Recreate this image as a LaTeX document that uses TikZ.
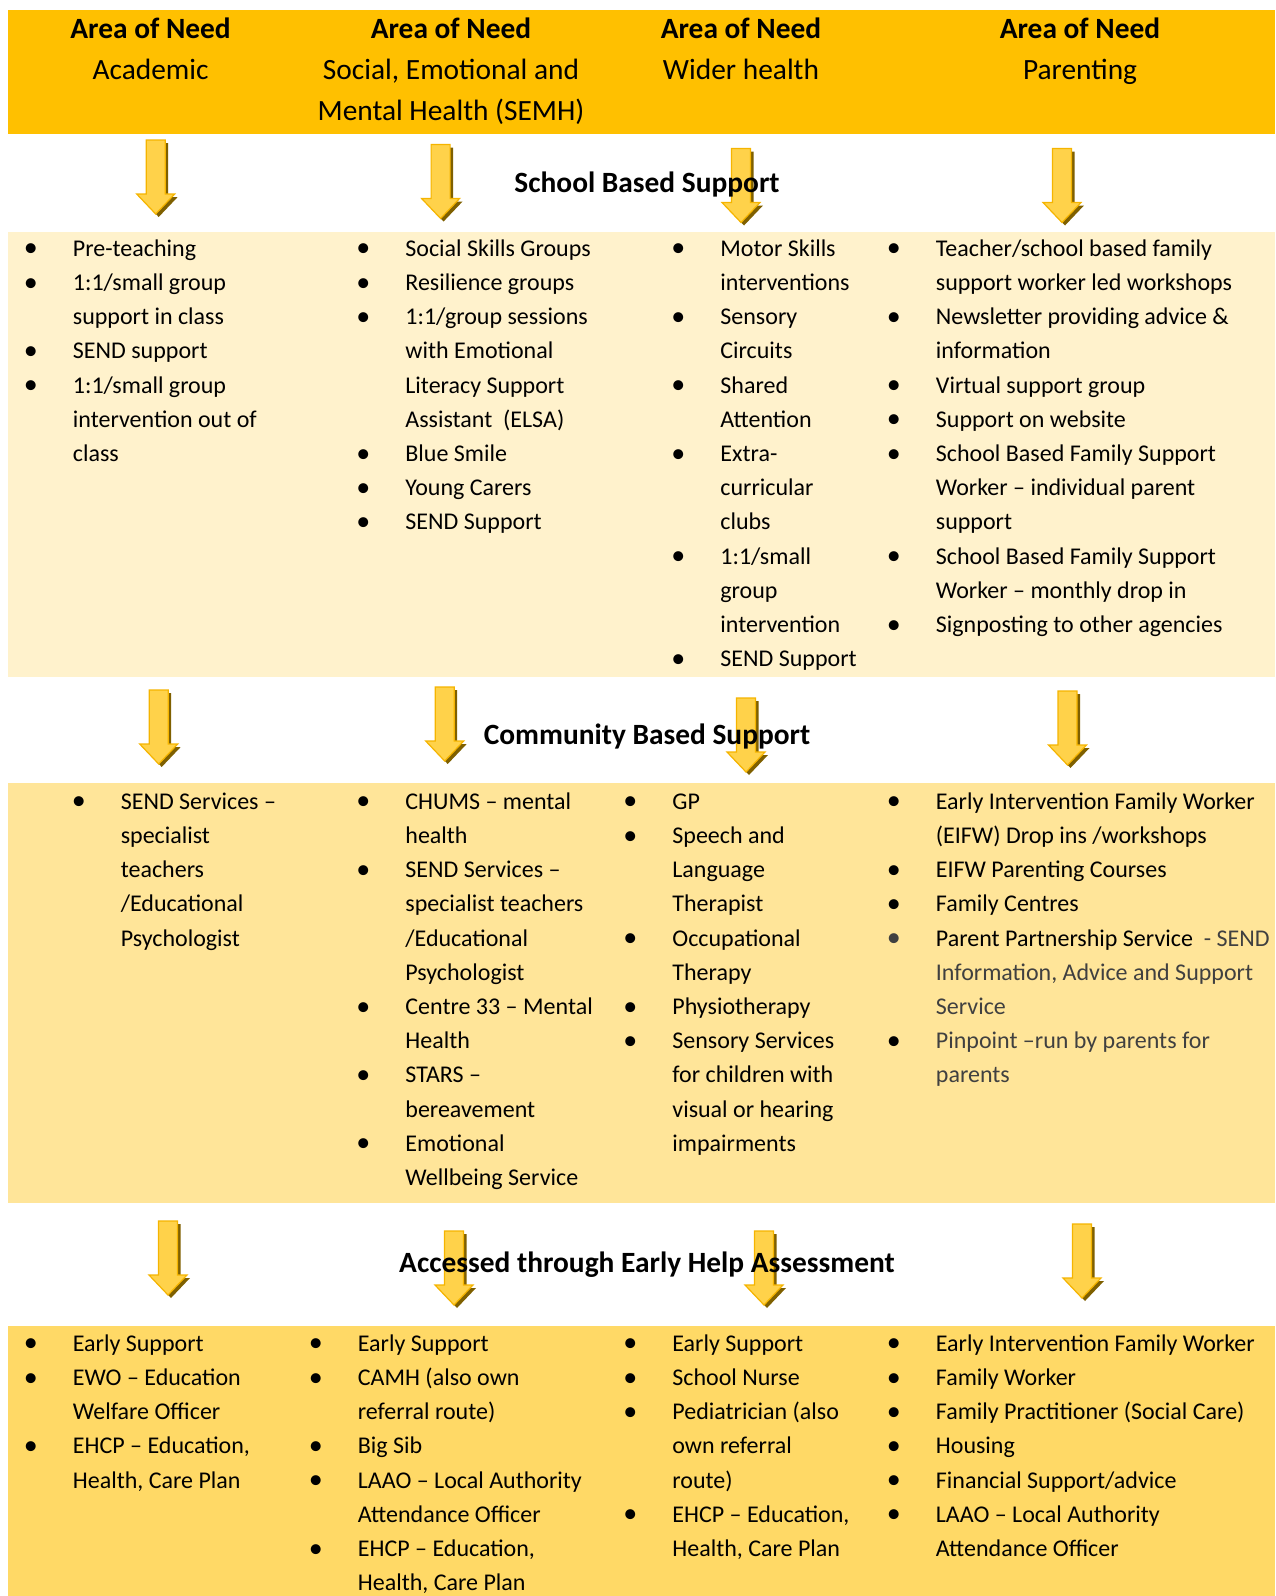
\documentclass[tikz,border=0pt]{standalone}
\usepackage{fontspec}
\setmainfont{Carlito}

\definecolor{headgold}{HTML}{FFC000}
\definecolor{bandone}{HTML}{FFF2CC}
\definecolor{bandtwo}{HTML}{FFE599}
\definecolor{bandthree}{HTML}{FFD966}
\definecolor{arrowlight}{HTML}{FFD24A}
\definecolor{arrowmid}{HTML}{FFC000}
\definecolor{arrowedge}{HTML}{F5B400}
\definecolor{arrowshadow}{HTML}{7F6000}
\definecolor{txtgray}{HTML}{404040}

\newcommand{\bdot}{\hspace*{-2pt}\raisebox{-0.3pt}{\fontsize{14}{17.1}\selectfont\textbullet}}
\newcommand{\bitem}[1]{\strut\makebox[22.5pt][l]{\bdot}#1}
\newcommand{\bcont}[1]{\strut\hspace*{22.5pt}#1}

\tikzset{
  areahead/.style={align=center, anchor=north, inner sep=0pt,
    font=\fontsize{14.7}{20.5}\selectfont},
  bandtitle/.style={anchor=base, inner sep=0pt,
    font=\fontsize{14.7}{17}\selectfont\bfseries},
  itemlist/.style={align=left, anchor=north west, inner sep=0pt,
    font=\fontsize{12}{17.1}\selectfont},
  downarrow/.pic={
    \fill[arrowshadow] (-6.5,3) -- (12.5,3) -- (12.5,57) -- (22,57) -- (3,77)
      -- (-16,57) -- (-6.5,57) -- cycle;
    \shadedraw[top color=arrowlight, middle color=arrowmid, bottom color=arrowlight,
      draw=arrowedge, line width=0.6pt]
      (-9.5,0) -- (9.5,0) -- (9.5,54) -- (19,54) -- (0,74) -- (-19,54)
      -- (-9.5,54) -- cycle;
  }
}

\begin{document}
\begin{tikzpicture}[x=0.5pt, y=-0.5pt]
  \useasboundingbox (0,0) rectangle (1275,1596);

  % bands
  \fill[headgold] (8,10) rectangle (1275,134);
  \fill[bandone] (8,232) rectangle (1275,677);
  \fill[bandtwo] (8,783) rectangle (1275,1203);
  \fill[bandthree] (8,1326) rectangle (1275,1596);

  % arrows
  \pic at (155.7,140) {downarrow};
  \pic at (440.6,144.5) {downarrow};
  \pic at (741,148.5) {downarrow};
  \pic at (1062,148.5) {downarrow};
  \pic at (158.7,690) {downarrow};
  \pic at (444.7,687) {downarrow};
  \pic at (746,698) {downarrow};
  \pic at (1067.5,691) {downarrow};
  \pic at (168,1221) {downarrow};
  \pic at (454,1231) {downarrow};
  \pic at (764,1231) {downarrow};
  \pic at (1082,1224) {downarrow};

  % areas of need
  \node[areahead] (h1) at (150.6,9) {\strut\textbf{Area of Need}\\Academic};
  \node[areahead] (h2) at (451,9) {\strut\textbf{Area of Need}\\Social, Emotional and\\Mental Health (SEMH)};
  \node[areahead] (h3) at (741,9) {\strut\textbf{Area of Need}\\Wider health};
  \node[areahead] (h4) at (1080,9) {\strut\textbf{Area of Need}\\Parenting};

  \node[bandtitle] (school) at (647,192) {School Based Support};
  \node[bandtitle] (community) at (647,744) {Community Based Support};
  \node[bandtitle] (earlyhelp) at (647,1272) {Accessed through Early Help Assessment};

  % school based
  \node[itemlist] (s1) at (27.5,232) {\bitem{Pre-teaching}\\\bitem{1:1/small group}\\\bcont{support in class}\\
    \bitem{SEND support}\\\bitem{1:1/small group}\\\bcont{intervention out of}\\\bcont{class}};
  \node[itemlist] (s2) at (360,232) {\bitem{Social Skills Groups}\\\bitem{Resilience groups}\\\bitem{1:1/group sessions}\\
    \bcont{with Emotional}\\\bcont{Literacy Support}\\\bcont{Assistant\ \ (ELSA)}\\\bitem{Blue Smile}\\
    \bitem{Young Carers}\\\bitem{SEND Support}};
  \node[itemlist] (s3) at (675,232) {\bitem{Motor Skills}\\\bcont{interventions}\\\bitem{Sensory}\\\bcont{Circuits}\\
    \bitem{Shared}\\\bcont{Attention}\\\bitem{Extra-}\\\bcont{curricular}\\\bcont{clubs}\\\bitem{1:1/small}\\
    \bcont{group}\\\bcont{intervention}\\\bitem{SEND Support}};
  \node[itemlist] (s4) at (890.5,232) {\bitem{Teacher/school based family}\\\bcont{support worker led workshops}\\
    \bitem{Newsletter providing advice \&}\\\bcont{information}\\\bitem{Virtual support group}\\
    \bitem{Support on website}\\\bitem{School Based Family Support}\\\bcont{Worker – individual parent}\\
    \bcont{support}\\\bitem{School Based Family Support}\\\bcont{Worker – monthly drop in}\\
    \bitem{Signposting to other agencies}};

  % community based
  \node[itemlist] (c1) at (75.4,785) {\bitem{SEND Services –}\\\bcont{specialist}\\\bcont{teachers}\\
    \bcont{/Educational}\\\bcont{Psychologist}};
  \node[itemlist] (c2) at (360,785) {\bitem{CHUMS – mental}\\\bcont{health}\\\bitem{SEND Services –}\\
    \bcont{specialist teachers}\\\bcont{/Educational}\\\bcont{Psychologist}\\\bitem{Centre 33 – Mental}\\
    \bcont{Health}\\\bitem{STARS –}\\\bcont{bereavement}\\\bitem{Emotional}\\\bcont{Wellbeing Service}};
  \node[itemlist] (c3) at (627,785) {\bitem{GP}\\\bitem{Speech and}\\\bcont{Language}\\\bcont{Therapist}\\
    \bitem{Occupational}\\\bcont{Therapy}\\\bitem{Physiotherapy}\\\bitem{Sensory Services}\\
    \bcont{for children with}\\\bcont{visual or hearing}\\\bcont{impairments}};
  \node[itemlist] (c4) at (890.5,785) {\bitem{Early Intervention Family Worker}\\\bcont{(EIFW) Drop ins /workshops}\\
    \bitem{EIFW Parenting Courses}\\\bitem{Family Centres}\\
    \strut\makebox[22.5pt][l]{\textcolor{txtgray}{\bdot}}Parent Partnership Service\ \ \textcolor{txtgray}{- SEND}\\
    \bcont{\textcolor{txtgray}{Information, Advice and Support}}\\\bcont{\textcolor{txtgray}{Service}}\\
    \bitem{\textcolor{txtgray}{Pinpoint –run by parents for}}\\\bcont{\textcolor{txtgray}{parents}}};

  % early help assessment
  \node[itemlist] (e1) at (27.5,1327) {\bitem{Early Support}\\\bitem{EWO – Education}\\\bcont{Welfare Officer}\\
    \bitem{EHCP – Education,}\\\bcont{Health, Care Plan}};
  \node[itemlist] (e2) at (312.5,1327) {\bitem{Early Support}\\\bitem{CAMH (also own}\\\bcont{referral route)}\\
    \bitem{Big Sib}\\\bitem{LAAO – Local Authority}\\\bcont{Attendance Officer}\\
    \bitem{EHCP – Education,}\\\bcont{Health, Care Plan}};
  \node[itemlist] (e3) at (627,1327) {\bitem{Early Support}\\\bitem{School Nurse}\\\bitem{Pediatrician (also}\\
    \bcont{own referral}\\\bcont{route)}\\\bitem{EHCP – Education,}\\\bcont{Health, Care Plan}};
  \node[itemlist] (e4) at (890.5,1327) {\bitem{Early Intervention Family Worker}\\\bitem{Family Worker}\\
    \bitem{Family Practitioner (Social Care)}\\\bitem{Housing}\\\bitem{Financial Support/advice}\\
    \bitem{LAAO – Local Authority}\\\bcont{Attendance Officer}};
\end{tikzpicture}
\end{document}
